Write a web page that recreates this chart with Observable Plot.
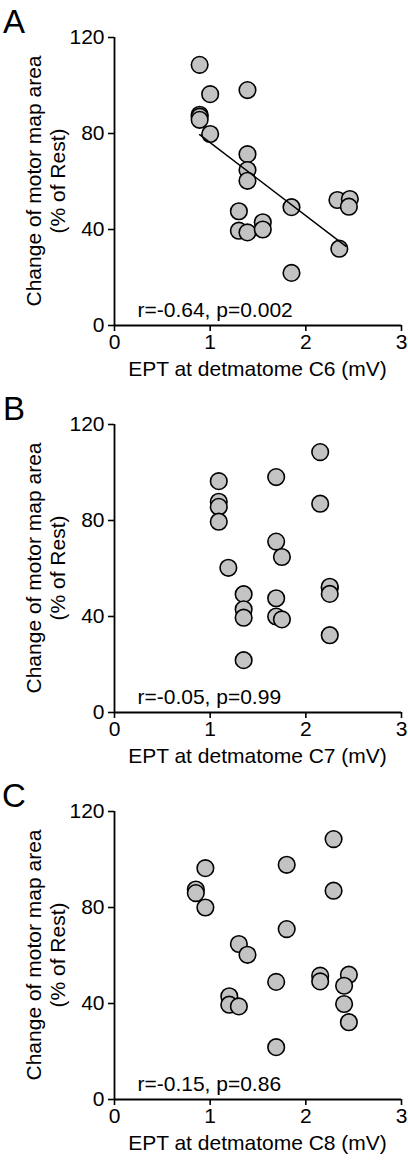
<!DOCTYPE html>
<html><head><meta charset="utf-8">
<script src="https://cdn.jsdelivr.net/npm/d3@7"></script>
<script src="https://cdn.jsdelivr.net/npm/@observablehq/plot@0.6"></script>
<style>body{margin:0;background:#fff;} svg{display:block;}</style>
</head><body><div id="chart"></div>
<script>
// ---- data ----
const panelLetters = ["A", "B", "C"];
const xLabels = ["EPT at detmatome C6 (mV)", "EPT at detmatome C7 (mV)", "EPT at detmatome C8 (mV)"];
const statLabels = ["r=-0.64, p=0.002", "r=-0.05, p=0.99", "r=-0.15, p=0.86"];
const yLabel1 = "Change of motor map area";
const yLabel2 = "(% of Rest)";
const xTicks = [0, 1, 2, 3];
const yTicks = [0, 40, 80, 120];

const xA = [0.89, 1.00, 1.39, 0.89, 0.89, 0.89, 1.00, 1.39, 1.39, 1.39, 1.30, 1.30, 1.39, 1.55, 1.55, 1.85, 1.85, 2.33, 2.46, 2.45, 2.35];
const yA = [108.6, 96.4, 98.1, 87.8, 87.0, 85.7, 79.8, 71.4, 64.8, 60.3, 47.6, 39.5, 38.8, 43.0, 40.0, 49.3, 21.9, 52.3, 52.7, 49.5, 32.0];

const xB = [2.15, 1.09, 1.69, 1.09, 1.09, 1.09, 2.15, 1.69, 1.75, 1.19, 1.35, 1.35, 1.35, 1.35, 1.69, 1.69, 1.75, 2.25, 2.25, 2.25, 2.25];
const yB = [108.5, 96.4, 98.1, 87.8, 85.7, 79.5, 87.0, 71.2, 64.8, 60.3, 49.3, 43.0, 39.5, 21.8, 47.6, 40.0, 38.8, 52.0, 52.4, 49.4, 32.2];

const xC = [2.29, 1.80, 0.95, 0.85, 0.85, 2.29, 0.95, 1.80, 1.30, 1.39, 1.69, 1.69, 1.20, 1.20, 1.30, 2.15, 2.15, 2.45, 2.40, 2.40, 2.45];
const yC = [108.5, 97.8, 96.4, 87.5, 86.0, 87.0, 80.0, 71.0, 64.8, 60.3, 49.0, 21.8, 43.0, 39.5, 38.8, 51.6, 49.2, 52.0, 47.4, 39.8, 32.2];

const regAx = [0.89, 2.42];
const regAy = [79.5, 33.0];

const statX = 0.24;
const statY = 3.7;

const FONT = "'Liberation Sans', Arial, Helvetica, sans-serif";

function panel(letter, xs, ys, xlabel, stat, reg) {
  const data = xs.map((x, i) => ({x, y: ys[i]}));
  const marks = [
    Plot.axisX({ticks: xTicks, tickFormat: d => String(d), tickSize: 6, tickPadding: 3, label: null, fontSize: 21, strokeWidth: 1.6}),
    Plot.axisY({ticks: yTicks, tickFormat: d => String(d), tickSize: 6, tickPadding: 4, label: null, fontSize: 21, strokeWidth: 1.6}),
    Plot.ruleX([0], {stroke: "#000", strokeWidth: 1.8}),
    Plot.ruleY([0], {stroke: "#000", strokeWidth: 1.8}),
    Plot.dot(data, {x: "x", y: "y", r: 8.3, fill: "#c3c3c3", stroke: "#000", strokeWidth: 1.6}),
    Plot.text([stat], {x: statX, y: statY, text: d => d, textAnchor: "start", lineAnchor: "bottom", fontSize: 21, fill: "#000"})
  ];
  if (reg) {
    marks.push(Plot.line(reg[0].map((x, i) => ({x, y: reg[1][i]})), {x: "x", y: "y", stroke: "#000", strokeWidth: 1.5}));
  }
  const svg = Plot.plot({
    width: 408, height: 387,
    marginLeft: 114, marginRight: 7, marginTop: 37, marginBottom: 62,
    x: {domain: [0, 3]},
    y: {domain: [0, 120]},
    style: {fontFamily: FONT, fontSize: "21px", color: "#000", background: "#fff", overflow: "visible"},
    marks
  });
  const s = d3.select(svg);
  s.append("text").attr("x", 14).attr("y", 33).attr("font-size", 33).attr("fill", "#000").text(letter);
  s.append("text").attr("transform", "translate(41,181) rotate(-90)").attr("text-anchor", "middle").attr("font-size", 21).attr("fill", "#000").text(yLabel1);
  s.append("text").attr("transform", "translate(64.5,181) rotate(-90)").attr("text-anchor", "middle").attr("font-size", 21).attr("fill", "#000").text(yLabel2);
  s.append("text").attr("x", 257.5).attr("y", 376).attr("text-anchor", "middle").attr("font-size", 21).attr("fill", "#000").text(xlabel);
  return svg;
}

const chart = document.getElementById("chart");
chart.appendChild(panel(panelLetters[0], xA, yA, xLabels[0], statLabels[0], [regAx, regAy]));
chart.appendChild(panel(panelLetters[1], xB, yB, xLabels[1], statLabels[1], null));
chart.appendChild(panel(panelLetters[2], xC, yC, xLabels[2], statLabels[2], null));
</script>
</body></html>
